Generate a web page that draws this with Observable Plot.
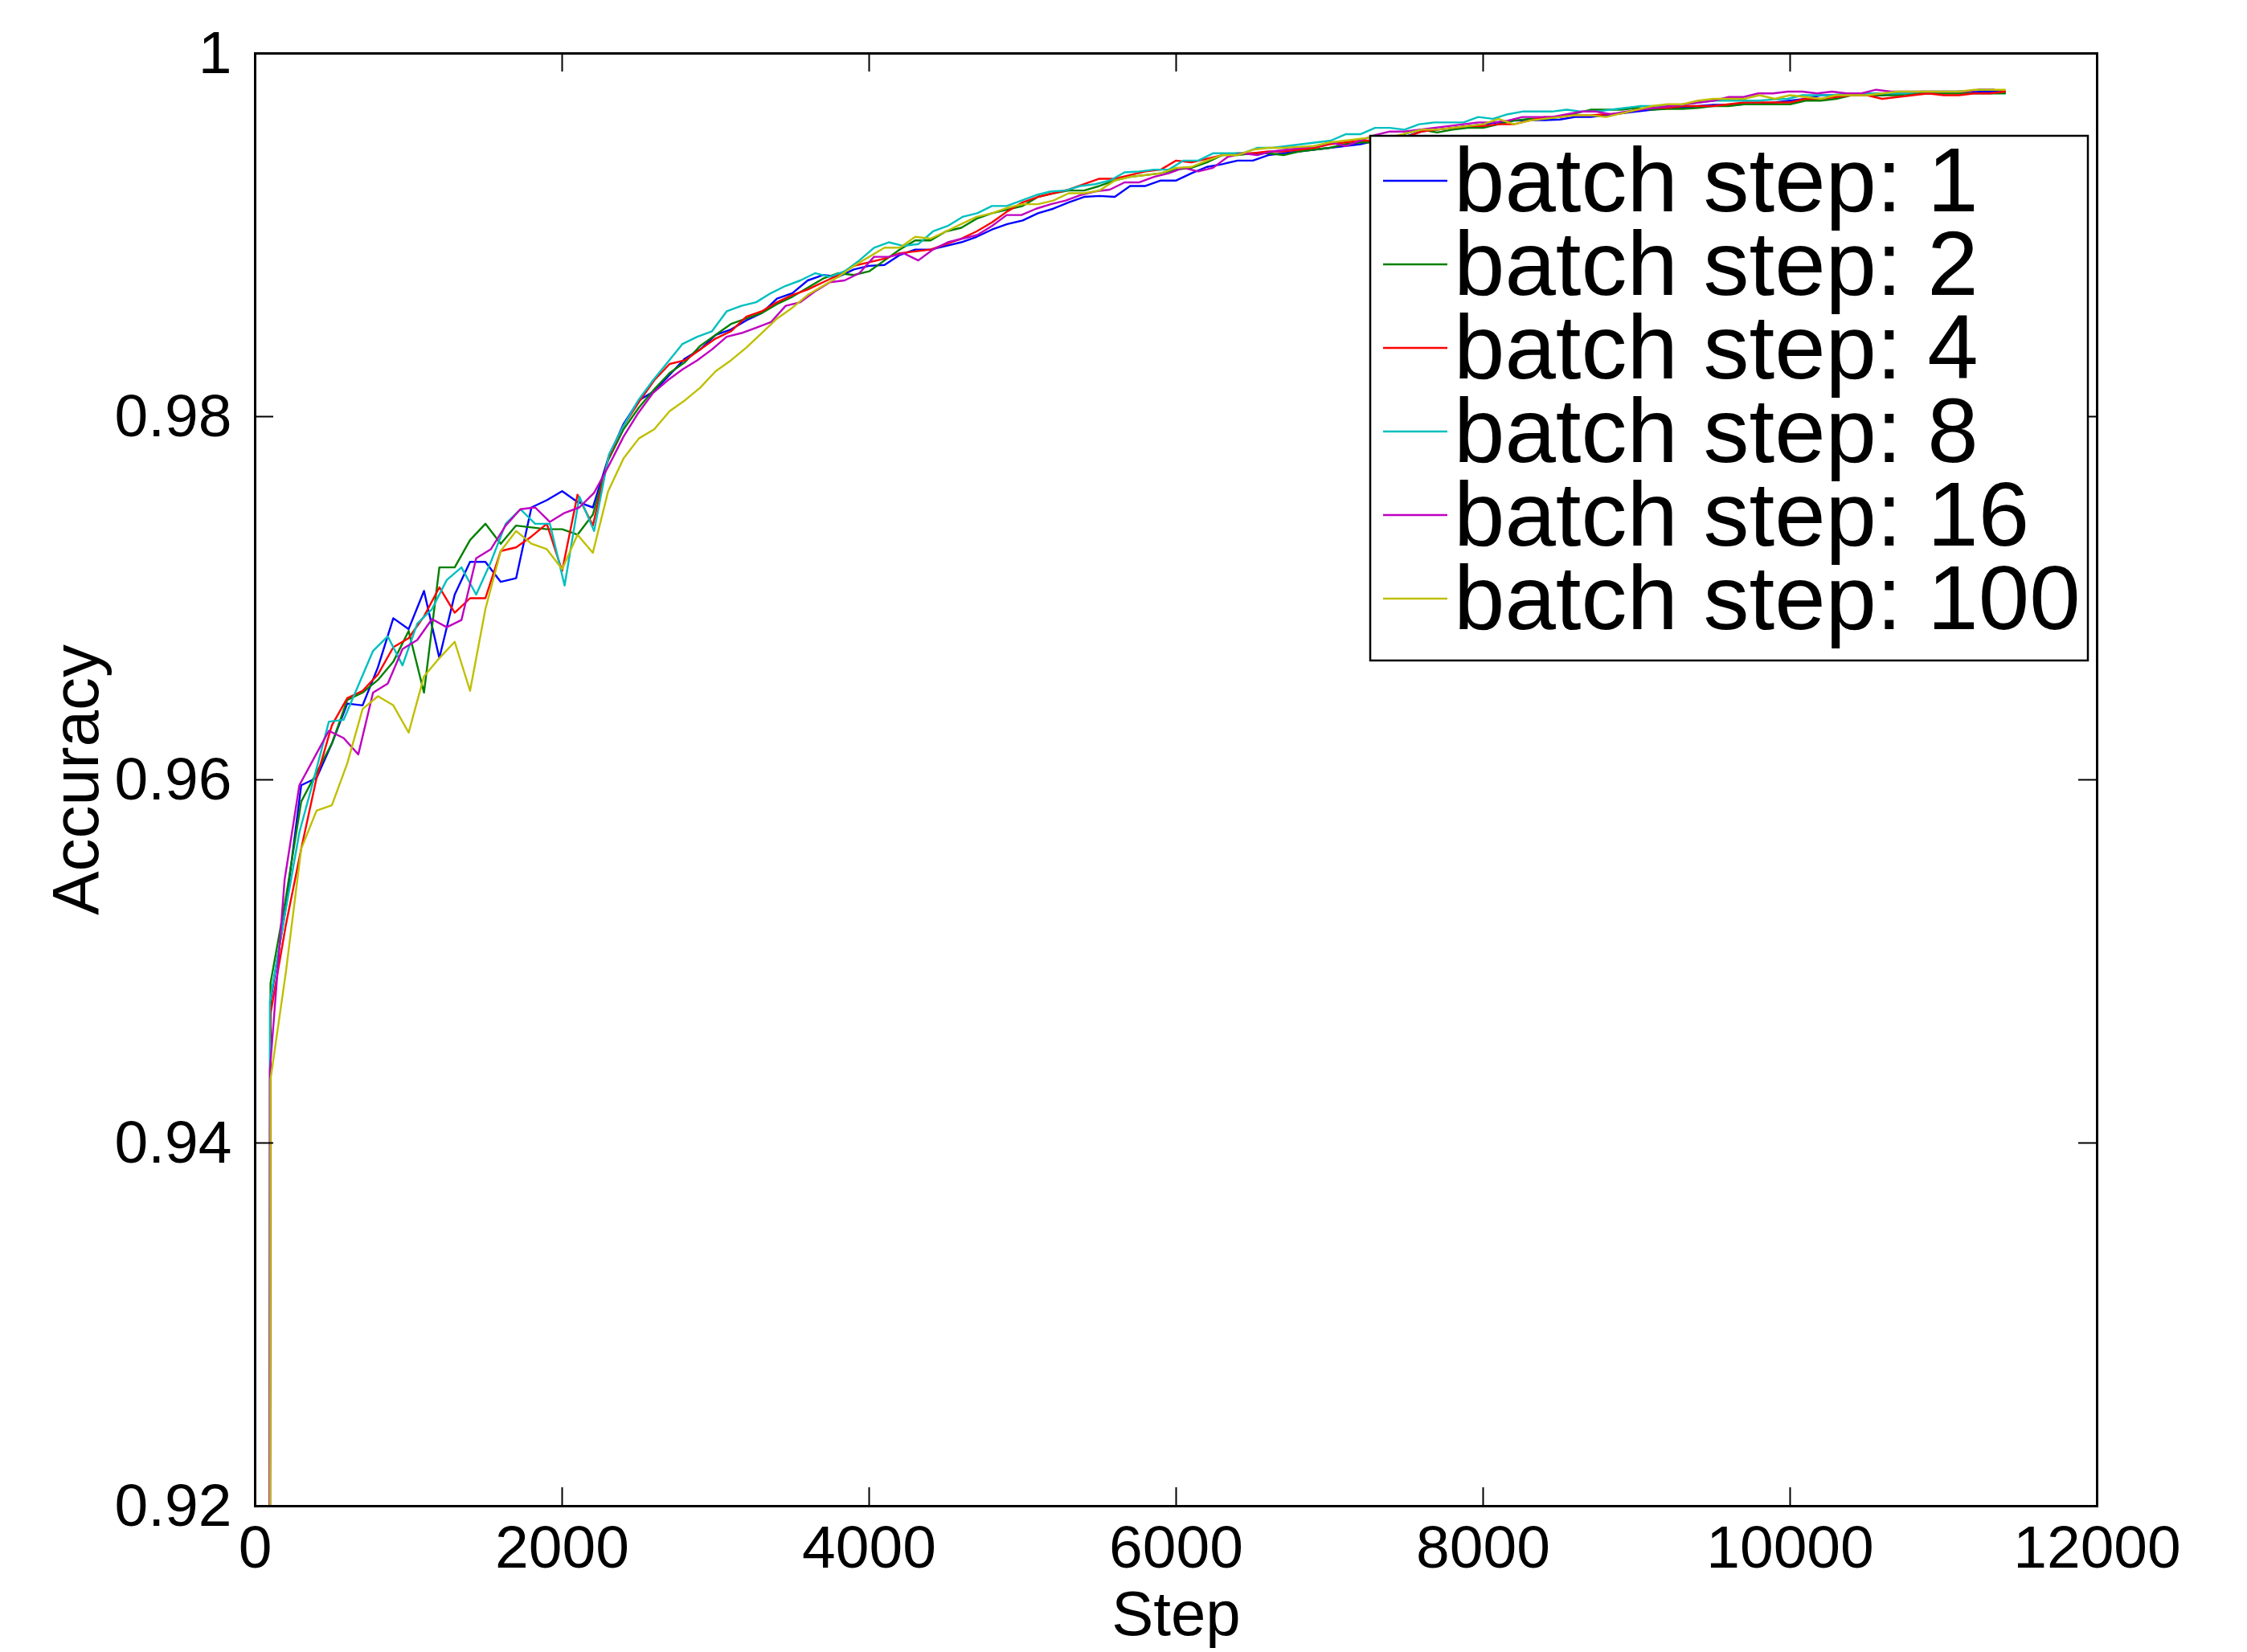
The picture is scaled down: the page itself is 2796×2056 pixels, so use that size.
<!DOCTYPE html>
<html>
<head>
<meta charset="utf-8">
<script src="https://cdn.jsdelivr.net/npm/d3@7"></script>
<script src="https://cdn.jsdelivr.net/npm/@observablehq/plot@0.6"></script>
<style>
  html, body { margin: 0; padding: 0; background: #fff; }
  #chart { position: relative; width: 2796px; height: 2056px; }
  #chart svg.legend { position: absolute; overflow: visible; }
</style>
</head>
<body>
<div id="chart"></div>
<script>
// ---------------- data ----------------
const seriesNames = ["batch step: 1", "batch step: 2", "batch step: 4", "batch step: 8", "batch step: 16", "batch step: 100"];
const seriesColors = ["#0000ff", "#008000", "#ff0000", "#00bfbf", "#bf00bf", "#bfbf00"];
// evaluation interval (in steps) of each series
const evalInterval = [100, 100, 100, 96, 96, 100];

const accStep1 = [
  0.1, 0.9478, 0.9530, 0.9597, 0.9601, 0.9620, 0.9642, 0.9641, 0.9662, 0.9689,
  0.9683, 0.9704, 0.9667, 0.9702, 0.9720, 0.9720, 0.9709, 0.9711, 0.9750, 0.9754,
  0.9759, 0.9753, 0.9750, 0.9777, 0.9796, 0.9809, 0.9814, 0.9823, 0.9832, 0.9837,
  0.9845, 0.9848, 0.9853, 0.9857, 0.9865, 0.9868, 0.9875, 0.9878, 0.9877, 0.9881,
  0.9883, 0.98835, 0.9889, 0.9892, 0.9892, 0.9894, 0.9896, 0.9899, 0.9903, 0.9906,
  0.9908, 0.9912, 0.99145, 0.9918, 0.9921, 0.99215, 0.9921, 0.9927, 0.9927, 0.9930,
  0.9930, 0.9934, 0.99375, 0.9939, 0.9941, 0.9941, 0.9944, 0.9945, 0.9946, 0.9947,
  0.9948, 0.9949, 0.9950, 0.9952, 0.9953, 0.99544, 0.9957, 0.9958, 0.9959, 0.9960,
  0.9961, 0.9962, 0.9963, 0.99633, 0.99633, 0.99636, 0.9965, 0.9965, 0.9966, 0.9967,
  0.9968, 0.9969, 0.9970, 0.9970, 0.9971, 0.99717, 0.99717, 0.9972, 0.9972, 0.9973,
  0.9974, 0.9975, 0.9977, 0.9977, 0.9977, 0.9977, 0.9977, 0.9978, 0.9978, 0.9978,
  0.9978, 0.9979, 0.9979, 0.9979, 0.9979
];
const accStep2 = [
  0.1, 0.9488, 0.9535, 0.9588, 0.9604, 0.9620, 0.9644, 0.9648, 0.9655, 0.9665,
  0.9682, 0.9648, 0.9717, 0.9717, 0.9732, 0.9741, 0.9730, 0.9740, 0.9739, 0.9738,
  0.9738, 0.9735, 0.9746, 0.9776, 0.9793, 0.9805, 0.9815, 0.9824, 0.9830, 0.9839,
  0.9845, 0.9851, 0.9854, 0.9857, 0.9862, 0.9866, 0.9871, 0.9876, 0.9879, 0.9878,
  0.9880, 0.9886, 0.9892, 0.9897, 0.9897, 0.9902, 0.9904, 0.9909, 0.9912, 0.9914,
  0.9916, 0.9921, 0.9923, 0.99245, 0.99245, 0.9927, 0.9930, 0.9932, 0.9933, 0.9934,
  0.9936, 0.9937, 0.9940, 0.9944, 0.9944, 0.9945, 0.9945, 0.9944, 0.9946, 0.9947,
  0.9948, 0.9950, 0.9951, 0.9951, 0.9952, 0.9956, 0.9958, 0.99565, 0.9958, 0.9959,
  0.9959, 0.9961, 0.9963, 0.9964, 0.9964, 0.9965, 0.9967, 0.9969, 0.9969, 0.9969,
  0.9970, 0.9969, 0.99695, 0.99695, 0.9970, 0.9971, 0.9971, 0.9972, 0.9972, 0.9972,
  0.9972, 0.9974, 0.9974, 0.9975, 0.9977, 0.9977, 0.9977, 0.9977, 0.9978, 0.9978,
  0.9978, 0.9978, 0.9978, 0.9978, 0.9978
];
const accStep4 = [
  0.1, 0.9471, 0.9520, 0.9562, 0.9601, 0.9630, 0.9645, 0.9649, 0.9658, 0.9673,
  0.9678, 0.9690, 0.9706, 0.9692, 0.9700, 0.9700, 0.9726, 0.9728, 0.9734, 0.9741,
  0.9715, 0.9757, 0.9740, 0.9777, 0.9795, 0.9808, 0.9820, 0.9829, 0.9831, 0.9837,
  0.9843, 0.9847, 0.9855, 0.9858, 0.9863, 0.9867, 0.9870, 0.9874, 0.9878, 0.9883,
  0.9885, 0.9887, 0.9890, 0.9891, 0.9892, 0.9895, 0.9898, 0.9902, 0.9907, 0.9913,
  0.9918, 0.9921, 0.9923, 0.9925, 0.9928, 0.9931, 0.9931, 0.9933, 0.9935, 0.9936,
  0.9941, 0.9940, 0.9942, 0.9944, 0.9945, 0.9945, 0.9946, 0.9946, 0.9947, 0.9948,
  0.9950, 0.9951, 0.9952, 0.9952, 0.99515, 0.9954, 0.9957, 0.9958, 0.9959, 0.9960,
  0.9960, 0.9961, 0.9961, 0.9963, 0.9965, 0.9965, 0.9966, 0.9966, 0.99665, 0.9967,
  0.9969, 0.9970, 0.9970, 0.9971, 0.9971, 0.9971, 0.9972, 0.9973, 0.9973, 0.9973,
  0.9973, 0.9975, 0.9975, 0.9976, 0.9977, 0.9977, 0.9975, 0.9976, 0.9977, 0.9978,
  0.9977, 0.9977, 0.9978, 0.9978, 0.9979
];
const accStep8 = [
  0.1, 0.9478, 0.9525, 0.9571, 0.9601, 0.9632, 0.9633, 0.9652, 0.9671, 0.9679,
  0.9663, 0.9686, 0.9694, 0.9710, 0.9717, 0.9702, 0.9720, 0.9741, 0.9749, 0.9741,
  0.9741, 0.9707, 0.9756, 0.9737, 0.9779, 0.9795, 0.9809, 0.9820, 0.9830, 0.9840,
  0.9844, 0.9847, 0.9858, 0.9861, 0.9863, 0.9868, 0.9872, 0.9875, 0.9879, 0.9877,
  0.9880, 0.9886, 0.9893, 0.9896, 0.9894, 0.9895, 0.9902, 0.9905, 0.9910, 0.9912,
  0.9916, 0.9916, 0.9919, 0.9922, 0.9924, 0.99245, 0.9927, 0.9928, 0.9930, 0.99345,
  0.9935, 0.9936, 0.9936, 0.9941, 0.9941, 0.9945, 0.9945, 0.9945, 0.9948, 0.9948,
  0.9949, 0.9950, 0.9951, 0.9952, 0.99555, 0.99555, 0.9959, 0.9959, 0.9958, 0.9961,
  0.9962, 0.9962, 0.9962, 0.9965, 0.9964, 0.99665, 0.9968, 0.9968, 0.9968, 0.9969,
  0.9968, 0.9968, 0.9969, 0.9970, 0.9971, 0.9971, 0.9971, 0.9972, 0.9973, 0.9974,
  0.9974, 0.9974, 0.9974, 0.99746, 0.9975, 0.9977, 0.9977, 0.9977, 0.9978, 0.9978,
  0.9978, 0.9978, 0.9978, 0.9979, 0.9979, 0.9979, 0.9979, 0.9980, 0.9980
];
const accStep16 = [
  0.1, 0.9440, 0.9545, 0.9597, 0.9612, 0.9627, 0.9623, 0.9614, 0.9648, 0.9653,
  0.9672, 0.9677, 0.96885, 0.9684, 0.9688, 0.9722, 0.9727, 0.9740, 0.9749, 0.9750,
  0.9742, 0.9747, 0.9750, 0.9758, 0.9773, 0.9789, 0.9802, 0.9813, 0.9820, 0.9826,
  0.9831, 0.9837, 0.9844, 0.9846, 0.9849, 0.9852, 0.9861, 0.9863, 0.9869, 0.9874,
  0.9875, 0.9879, 0.9888, 0.9888, 0.9890, 0.9886, 0.9892, 0.9896, 0.9898, 0.9900,
  0.9905, 0.9911, 0.9911, 0.99145, 0.9917, 0.9919, 0.9922, 0.9924, 0.9925, 0.9929,
  0.9929, 0.9932, 0.9934, 0.9937, 0.9935, 0.9937, 0.9943, 0.9945, 0.9944, 0.9946,
  0.9947, 0.9948, 0.9949, 0.9951, 0.9949, 0.9952, 0.9955, 0.9957, 0.9957, 0.9958,
  0.9959, 0.9960, 0.9961, 0.9962, 0.9962, 0.9963, 0.9965, 0.9965, 0.9965, 0.99665,
  0.9968, 0.9968, 0.99665, 0.9968, 0.9969, 0.9970, 0.9971, 0.9972, 0.9973, 0.9974,
  0.9976, 0.9976, 0.9978, 0.9978, 0.9979, 0.9979, 0.9978, 0.9979, 0.9978, 0.9978,
  0.9980, 0.9979, 0.9979, 0.9979, 0.9979, 0.9979, 0.9979, 0.9980, 0.9980
];
const accStep100 = [
  0.1, 0.9435, 0.9494, 0.9562, 0.9583, 0.9586, 0.9609, 0.9639, 0.9646, 0.9641,
  0.9626, 0.9657, 0.9667, 0.9676, 0.9649, 0.9694, 0.9726, 0.9737, 0.9730, 0.9727,
  0.9716, 0.9735, 0.9725, 0.9759, 0.9777, 0.9788, 0.9793, 0.9803, 0.9809, 0.9816,
  0.9825, 0.9831, 0.9838, 0.9846, 0.9854, 0.9860, 0.9867, 0.9872, 0.9877, 0.9883,
  0.9888, 0.9893, 0.9893, 0.9899, 0.9898, 0.9902, 0.9906, 0.9910, 0.9912, 0.9915,
  0.9917, 0.9917, 0.9919, 0.9923, 0.9923, 0.99245, 0.9930, 0.9932, 0.9933, 0.9934,
  0.9937, 0.99375, 0.9941, 0.9944, 0.9944, 0.9947, 0.9948, 0.9948, 0.99485, 0.9949,
  0.9951, 0.9952, 0.9953, 0.9954, 0.9954, 0.9956, 0.9958, 0.9958, 0.9959, 0.9960,
  0.9961, 0.9964, 0.9961, 0.9963, 0.9964, 0.9965, 0.9966, 0.9966, 0.9965, 0.9967,
  0.9969, 0.9971, 0.9972, 0.9972, 0.9974, 0.9975, 0.9975, 0.9975, 0.9977, 0.9975,
  0.9977, 0.9976, 0.9975, 0.9977, 0.9977, 0.9977, 0.9978, 0.9979, 0.9979, 0.9979,
  0.9979, 0.9979, 0.9980, 0.9980, 0.9980
];
const seriesValues = [accStep1, accStep2, accStep4, accStep8, accStep16, accStep100];

const xTicks = [0, 2000, 4000, 6000, 8000, 10000, 12000];
const yTicks = [0.92, 0.94, 0.96, 0.98, 1];
const xDomain = [0, 12000];
const yDomain = [0.92, 1];

// ---------------- layout ----------------
const W = 2796, H = 2056;
const M = {left: 317, right: 187, top: 66, bottom: 182};
const frameW = W - M.left - M.right;
const frameH = H - M.top - M.bottom;
const tickLen = 23;
const FONT = "'Liberation Sans', Arial, Helvetica, sans-serif";

const rows = [];
seriesValues.forEach((vals, s) => {
  vals.forEach((v, i) => rows.push({series: seriesNames[s], step: i * evalInterval[s], acc: v}));
});

const chart = Plot.plot({
  width: W,
  height: H,
  marginLeft: M.left,
  marginRight: M.right,
  marginTop: M.top,
  marginBottom: M.bottom,
  style: {fontFamily: FONT, fontSize: "75px", background: "#fff", color: "#000", overflow: "visible"},
  x: {domain: xDomain},
  y: {domain: yDomain},
  color: {domain: seriesNames, range: seriesColors},
  marks: [
    Plot.line(rows, {x: "step", y: "acc", z: "series", stroke: "series", strokeWidth: 2.4, clip: true}),
    // inward ticks on all four sides
    Plot.tickX(xTicks, {x: d => d, insetTop: frameH - tickLen, stroke: "#000", strokeWidth: 2}),
    Plot.tickX(xTicks, {x: d => d, insetBottom: frameH - tickLen, stroke: "#000", strokeWidth: 2}),
    Plot.tickY(yTicks, {y: d => d, insetRight: frameW - tickLen, stroke: "#000", strokeWidth: 2}),
    Plot.tickY(yTicks, {y: d => d, insetLeft: frameW - tickLen, stroke: "#000", strokeWidth: 2}),
    Plot.frame({stroke: "#000", strokeWidth: 3}),
    Plot.axisX(xTicks, {tickSize: 0, tickPadding: 23, tickFormat: d3.format("d"), fontSize: 75, label: null}),
    Plot.axisY(yTicks, {tickSize: 0, tickPadding: 29, tickFormat: d3.format("~g"), fontSize: 75, label: null}),
    Plot.text(["Step"], {text: d => d, frameAnchor: "bottom", dy: 160, lineAnchor: "bottom", textAnchor: "middle", fontSize: 78, fill: "#000"}),
    Plot.text(["Accuracy"], {text: d => d, frameAnchor: "left", dx: -254, rotate: -90, lineAnchor: "top", textAnchor: "middle", fontSize: 82, fill: "#000"})
  ]
});
const container = document.getElementById("chart");
container.appendChild(chart);

// ---------------- legend (inside the axes, top right) ----------------
const legendBox = {left: 1705, top: 169, width: 893, height: 653};
const legendRow = {first: 56, gap: 104, lineX1: 16, lineX2: 96, textX: 104, baseline: 38};
const lg = d3.select(container).append("svg")
  .attr("class", "legend")
  .attr("width", legendBox.width + 4)
  .attr("height", legendBox.height + 4)
  .style("left", (legendBox.left - 2) + "px")
  .style("top", (legendBox.top - 2) + "px");
lg.append("rect")
  .attr("x", 2).attr("y", 2)
  .attr("width", legendBox.width).attr("height", legendBox.height)
  .attr("fill", "#fff").attr("stroke", "#000").attr("stroke-width", 2.5);
const items = lg.selectAll("g.item").data(seriesNames).join("g")
  .attr("transform", (d, i) => `translate(2, ${2 + legendRow.first + i * legendRow.gap})`);
items.append("line")
  .attr("x1", legendRow.lineX1).attr("x2", legendRow.lineX2)
  .attr("y1", 0).attr("y2", 0)
  .attr("stroke", (d, i) => seriesColors[i]).attr("stroke-width", 2.4);
items.append("text")
  .attr("x", legendRow.textX).attr("y", legendRow.baseline)
  .attr("font-family", FONT).attr("font-size", 114).attr("fill", "#000")
  .text(d => d);
</script>
</body>
</html>
